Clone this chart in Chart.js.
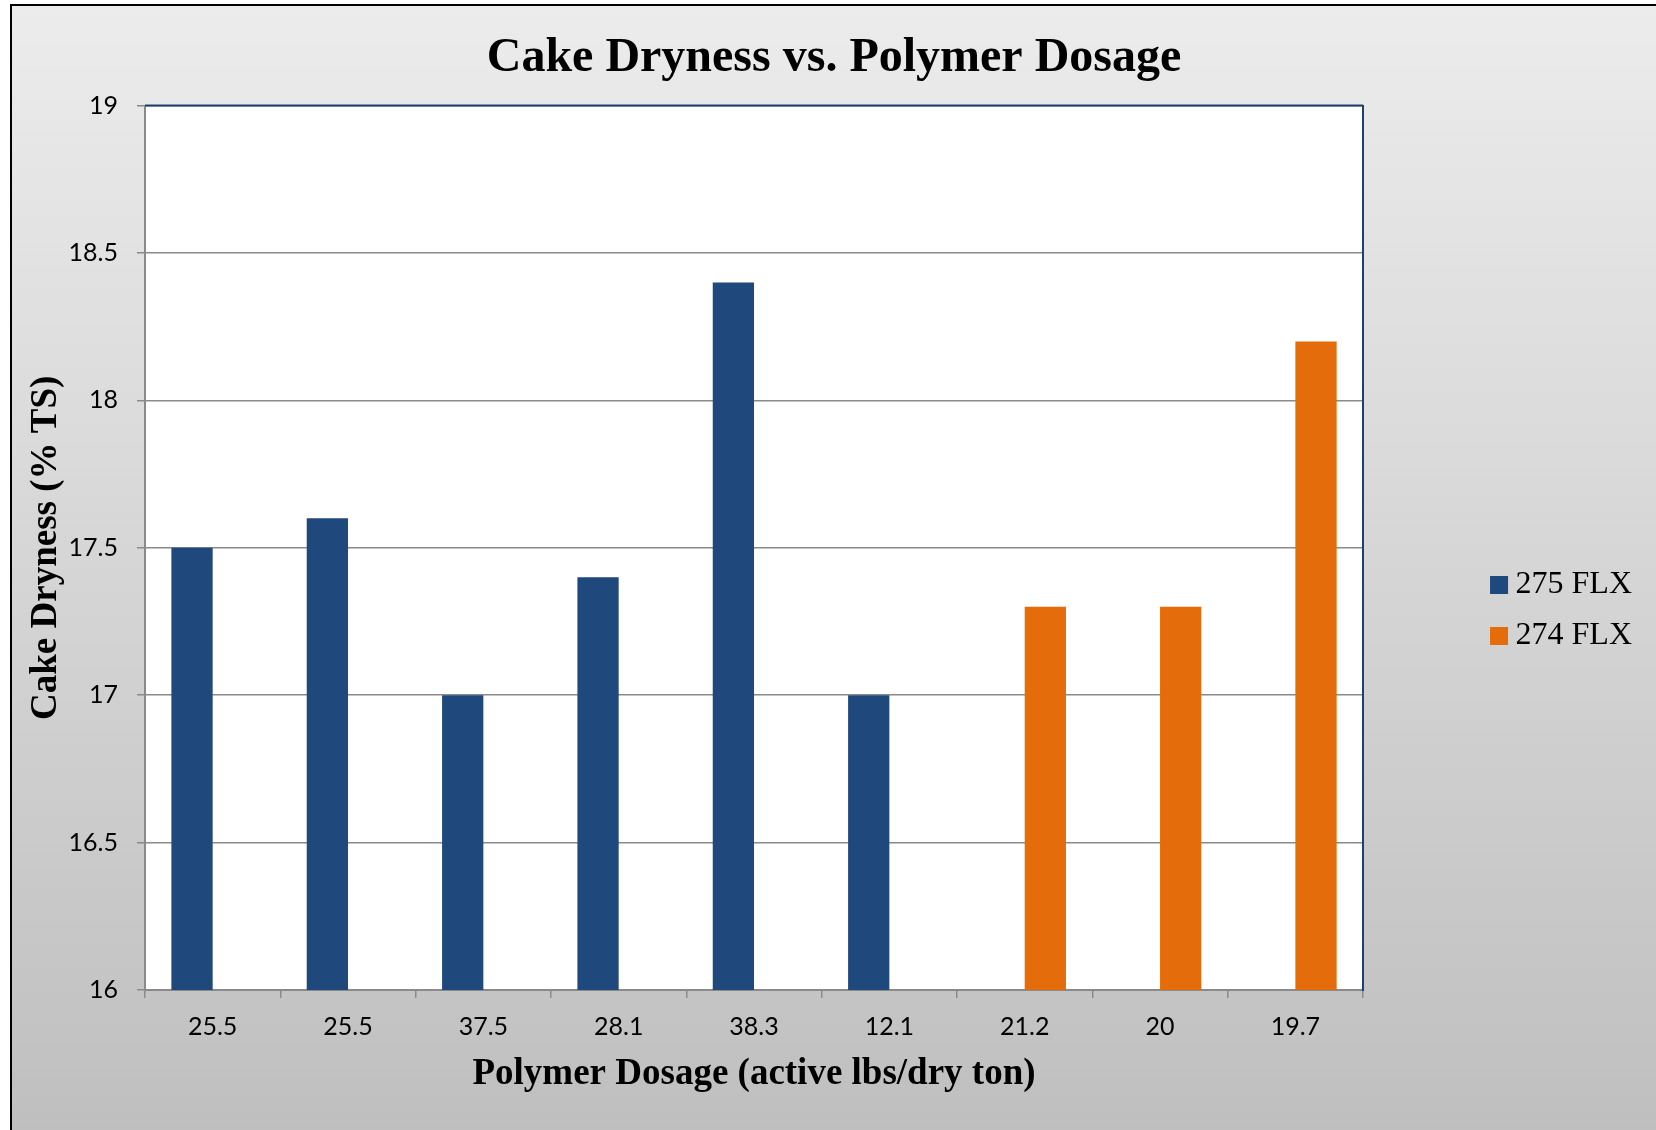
<!DOCTYPE html>
<html>
<head>
<meta charset="utf-8">
<title>Cake Dryness vs. Polymer Dosage</title>
<script src="https://cdn.jsdelivr.net/npm/chart.js@4.4.1/dist/chart.umd.min.js"></script>
<style>
  html, body { margin: 0; padding: 0; background: #ffffff; }
  #wrap { width: 1656px; height: 1130px; position: relative; }
</style>
</head>
<body>
<div id="wrap"><canvas id="chart"></canvas></div>
<script>
// Polymer dosage (active lbs/dry ton) for each trial, in run order
const categories = ['25.5', '25.5', '37.5', '28.1', '38.3', '12.1', '21.2', '20', '19.7'];

// Cake dryness (% TS) per polymer product; null where the product was not run
const flx275 = [17.5, 17.6, 17.0, 17.4, 18.4, 17.0, null, null, null];
const flx274 = [null, null, null, null, null, null, 17.3, 17.3, 18.2];

const seriesNames = ['275 FLX', '274 FLX'];

// Value axis range
const yMin = 16;
const yMax = 19;
const yStep = 0.5;

const NAVY = '#1F497D';
const ORANGE = '#E46C0A';
const GRID = '#8a8a8a';
const SERIF = '"Liberation Serif", "Times New Roman", serif';
const SANS = 'Lato, "Open Sans", sans-serif';

// Grey gradient backdrop, outer frame and white plot area
const backdrop = {
  id: 'backdrop',
  beforeDraw(chart) {
    const { ctx, width, height, chartArea } = chart;
    ctx.save();
    ctx.fillStyle = '#ffffff';
    ctx.fillRect(0, 0, width, height);
    const g = ctx.createLinearGradient(0, 5, 0, height);
    g.addColorStop(0, '#ececec');
    g.addColorStop(1, '#bfbfbf');
    ctx.fillStyle = g;
    ctx.fillRect(11, 5, width - 11, height - 5);
    ctx.strokeStyle = '#000000';
    ctx.lineWidth = 2;
    ctx.beginPath();
    ctx.moveTo(11, height);
    ctx.lineTo(11, 5);
    ctx.lineTo(width, 5);
    ctx.stroke();
    ctx.fillStyle = '#ffffff';
    ctx.fillRect(chartArea.left, chartArea.top, chartArea.right - chartArea.left, chartArea.bottom - chartArea.top);
    ctx.restore();
  },
  afterDraw(chart) {
    const { ctx, chartArea } = chart;
    ctx.save();
    ctx.strokeStyle = '#1F3F73';
    ctx.lineWidth = 2;
    ctx.beginPath();
    ctx.moveTo(chartArea.left, chartArea.top);
    ctx.lineTo(chartArea.right, chartArea.top);
    ctx.stroke();
    ctx.restore();
  }
};

new Chart(document.getElementById('chart'), {
  type: 'bar',
  data: {
    labels: categories,
    datasets: [
      { label: seriesNames[0], data: flx275, backgroundColor: NAVY, borderWidth: 0,
        categoryPercentage: 0.61, barPercentage: 1.0 },
      { label: seriesNames[1], data: flx274, backgroundColor: ORANGE, borderWidth: 0,
        categoryPercentage: 0.61, barPercentage: 1.0 }
    ]
  },
  options: {
    responsive: true,
    maintainAspectRatio: false,
    animation: false,
    layout: { padding: { left: 26, right: 14, top: 0, bottom: 0 } },
    plugins: {
      tooltip: { enabled: false },
      title: {
        display: true,
        text: 'Cake Dryness vs. Polymer Dosage',
        color: '#000000',
        font: { family: SERIF, size: 48, weight: 'bold', lineHeight: 1.2 },
        padding: { top: 30, bottom: 18 }
      },
      legend: {
        position: 'right',
        align: 'start',
        title: { display: true, text: '', font: { size: 10 }, padding: { top: 538, bottom: 0 } },
        labels: {
          color: '#000000',
          font: { family: SERIF, size: 32 },
          usePointStyle: true,
          pointStyle: 'rect',
          boxWidth: 1,
          boxHeight: 18,
          padding: 19
        }
      }
    },
    scales: {
      x: {
        type: 'category',
        grid: { display: true, drawOnChartArea: false, drawTicks: true, tickLength: 8, color: GRID, lineWidth: 1.5, offset: true },
        border: { display: true, color: GRID, width: 2 },
        ticks: { color: '#000000', font: { family: SANS, size: 25 }, padding: 14, maxRotation: 0, autoSkip: false },
        title: {
          display: true,
          text: 'Polymer Dosage (active lbs/dry ton)',
          color: '#000000',
          font: { family: SERIF, size: 37, weight: 'bold', lineHeight: 1.2 },
          padding: { top: 0, bottom: 33 }
        },
        afterFit(scale) { scale.height = 140; }
      },
      y: {
        type: 'linear',
        position: 'left',
        min: yMin,
        max: yMax,
        ticks: { stepSize: yStep, color: '#000000', font: { family: SANS, size: 25 }, padding: 19,
                 callback: (v) => String(v) },
        grid: { display: true, drawTicks: true, tickLength: 8, color: GRID, lineWidth: 1.5 },
        border: { display: true, color: GRID, width: 2 },
        title: {
          display: true,
          text: 'Cake Dryness (% TS)',
          color: '#000000',
          font: { family: SERIF, size: 37, weight: 'bold', lineHeight: 1.0 },
          padding: { top: 1.5, bottom: 0 }
        },
        afterFit(scale) { scale.width = 119; }
      },
      yRight: {
        type: 'linear',
        position: 'right',
        min: yMin,
        max: yMax,
        grid: { display: false },
        ticks: { display: false },
        border: { display: true, color: '#1F3F73', width: 2 },
        afterFit(scale) { scale.width = 116.5; }
      }
    }
  },
  plugins: [backdrop]
});
</script>
</body>
</html>
